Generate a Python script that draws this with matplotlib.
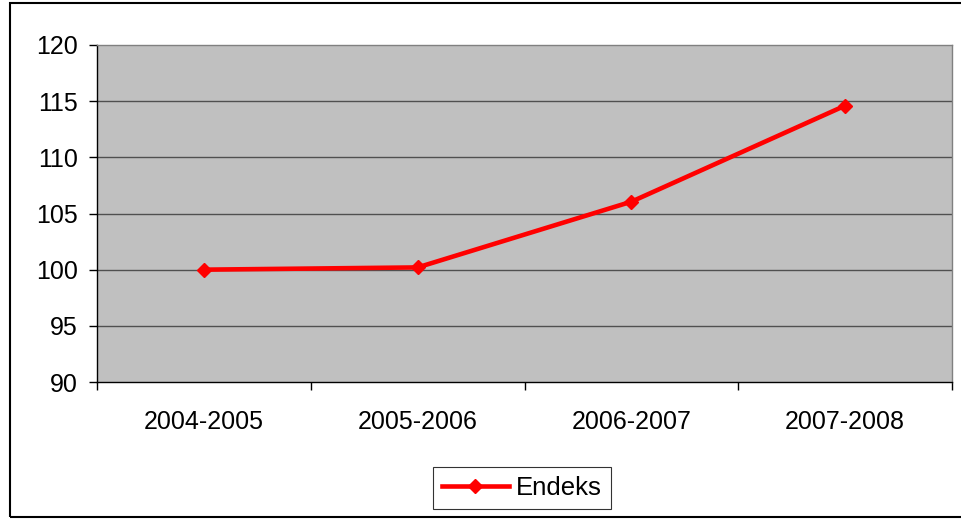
import matplotlib
matplotlib.use("Agg")
from matplotlib import pyplot as plt
from matplotlib.patches import Rectangle

periods = ["2004-2005", "2005-2006", "2006-2007", "2007-2008"]
endeks = [100.0, 100.2, 106.05, 114.6]
y_ticks = [90, 95, 100, 105, 110, 115, 120]

plt.rcParams['font.family'] = ['Liberation Sans', 'DejaVu Sans']

W, H = 962, 520
fig = plt.figure(figsize=(W / 100, H / 100), dpi=100)
fig.patch.set_facecolor('white')

# plot area in pixels: left 97, right 952, top 45, bottom 382
ax = fig.add_axes([97 / W, 1 - 382 / H, (952 - 97) / W, (382 - 45) / H])
ax.set_facecolor('#c0c0c0')

x = list(range(len(periods)))
ax.plot(x, endeks, color='#ff0000', lw=3.3, marker='D', ms=7.5, label='Endeks', zorder=3)

ax.set_xlim(-0.5, len(periods) - 0.5)
ax.set_ylim(90, 120)
ax.set_yticks(y_ticks)
ax.set_xticks(x)
ax.set_xticklabels(periods)
ax.set_xticks([i - 0.5 for i in range(len(periods) + 1)], minor=True)
ax.tick_params(axis='x', which='major', length=0, pad=20, labelsize=18)
ax.tick_params(axis='x', which='minor', length=6, width=1, color='black')
ax.tick_params(axis='y', length=6, width=1, color='black', labelsize=18, pad=8)

for v in y_ticks[1:-1]:
    ax.axhline(v, color='#505050', lw=1, zorder=1)

ax.spines['left'].set_color('black')
ax.spines['bottom'].set_color('black')
ax.spines['top'].set_color('#808080')
ax.spines['right'].set_color('#808080')
for s in ax.spines.values():
    s.set_linewidth(1)

leg = ax.legend(loc='center', bbox_to_anchor=(522 / W, 1 - 488 / H),
                bbox_transform=fig.transFigure, fontsize=18.5, frameon=True,
                fancybox=False, edgecolor='black', handlelength=2.6,
                borderpad=0.35, handletextpad=0.3)
leg.get_frame().set_linewidth(0.8)

# outer chart border
fig.patches.append(Rectangle((10 / W, 3 / H), 1.0, 1 - 6 / H, transform=fig.transFigure,
                             fill=False, edgecolor='black', lw=1.5))

fig.savefig('out.png', dpi=100)
